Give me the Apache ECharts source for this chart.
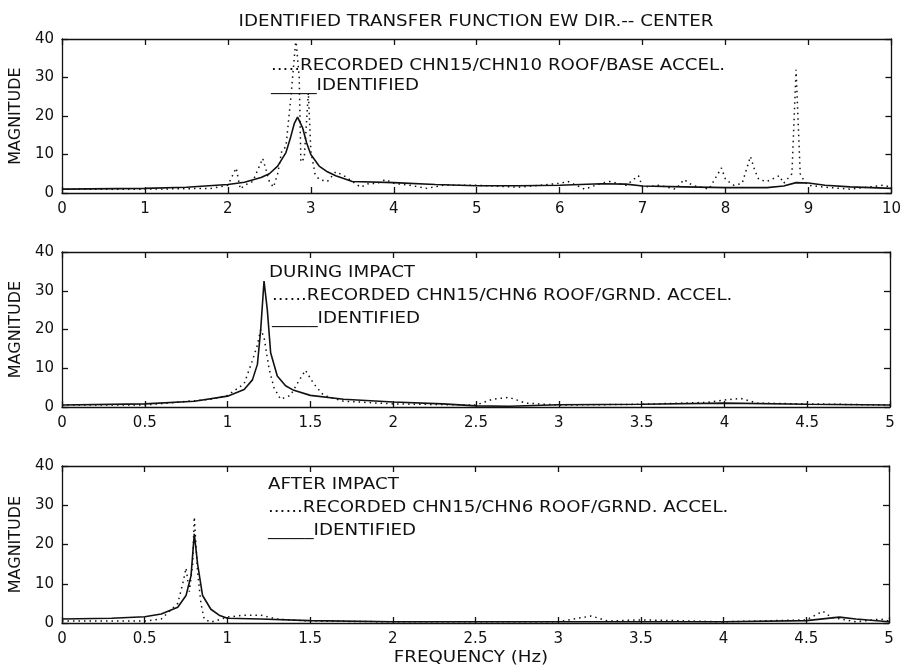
<!DOCTYPE html>
<html>
<head>
<meta charset="utf-8">
<script src="https://cdn.jsdelivr.net/npm/echarts@6/dist/echarts.min.js"></script>
<style>
  html, body { margin: 0; padding: 0; background: #fff; }
  #chart { width: 904px; height: 667px; }
</style>
</head>
<body>
<div id="chart"></div>
<script>
// top panel: EW dir, center (0-10 Hz)
var topIdentified = [
  [0, 1.0], [1, 1.2], [1.5, 1.5], [2, 2.2], [2.2, 2.8], [2.4, 4], [2.5, 5], [2.6, 7],
  [2.7, 10.5], [2.75, 14], [2.8, 18], [2.84, 19.7], [2.9, 17], [2.95, 13], [3.0, 10],
  [3.1, 7], [3.2, 5.5], [3.3, 4.5], [3.5, 3.0], [4, 2.7], [4.5, 2.2], [5, 1.9],
  [5.5, 1.9], [6, 2.0], [6.5, 2.4], [6.8, 2.3], [7, 1.8], [7.5, 1.6], [8, 1.4],
  [8.5, 1.4], [8.7, 1.8], [8.85, 2.7], [9.0, 2.6], [9.2, 2.0], [9.5, 1.6], [10, 1.2]
];
var topRecorded = [
  [0, 1.0], [1, 1.0], [1.8, 1.2], [2.0, 2], [2.1, 6.5], [2.15, 1], [2.2, 2], [2.3, 3],
  [2.42, 9], [2.46, 6], [2.5, 3], [2.55, 1.5], [2.6, 5], [2.65, 11], [2.7, 12],
  [2.76, 25], [2.82, 40], [2.86, 30], [2.88, 8], [2.92, 9], [2.97, 26], [3.0, 11],
  [3.05, 5], [3.1, 3.5], [3.2, 3], [3.3, 5.5], [3.4, 4.5], [3.5, 3], [3.6, 1.5],
  [3.7, 2.5], [3.8, 2.5], [3.9, 3.5], [4.0, 2.5], [4.2, 2], [4.4, 1.2], [4.6, 2],
  [5, 2], [5.5, 1.5], [6, 2.5], [6.1, 3], [6.3, 1.0], [6.5, 2.5], [6.6, 3], [6.8, 2.0],
  [6.95, 4.5], [7.0, 1.5], [7.2, 2.0], [7.4, 1.0], [7.5, 3.5], [7.6, 2.0], [7.8, 1.0],
  [7.95, 6.5], [8.0, 3.5], [8.1, 2], [8.2, 2.5], [8.3, 9.5], [8.35, 6], [8.4, 3.5],
  [8.5, 3], [8.6, 4], [8.65, 4.5], [8.7, 2.5], [8.8, 5], [8.85, 32], [8.9, 5],
  [8.95, 3], [9.0, 2], [9.2, 1.5], [9.5, 1], [9.7, 1.5], [9.9, 2], [10, 1.5]
];

// middle panel: during impact (0-5 Hz)
var midIdentified = [
  [0, 0.5], [0.5, 0.8], [0.8, 1.5], [1.0, 2.8], [1.1, 4.5], [1.15, 7], [1.18, 11],
  [1.2, 20], [1.22, 32.5], [1.24, 25], [1.26, 14], [1.3, 8], [1.35, 5.5], [1.4, 4.3],
  [1.5, 3.0], [1.7, 2.0], [2.0, 1.3], [2.3, 0.8], [2.5, 0.3], [2.7, 0.2], [3.0, 0.6],
  [3.5, 0.7], [4.0, 1.0], [4.5, 0.7], [5.0, 0.5]
];
var midRecorded = [
  [0, 0.5], [0.5, 0.5], [0.9, 2], [1.0, 3], [1.1, 6], [1.15, 12], [1.18, 16],
  [1.2, 20], [1.22, 18], [1.25, 10], [1.28, 5], [1.32, 2], [1.38, 3], [1.42, 6],
  [1.47, 9.5], [1.52, 6], [1.58, 3], [1.7, 1.5], [2.0, 0.8], [2.5, 0.5], [2.6, 2.0],
  [2.7, 2.5], [2.8, 1.0], [3.0, 0.5], [3.5, 0.7], [3.9, 1.2], [4.0, 1.8], [4.1, 2.2],
  [4.2, 1], [4.5, 0.8], [5.0, 0.5]
];

// bottom panel: after impact (0-5 Hz)
var botIdentified = [
  [0, 1.0], [0.3, 1.2], [0.5, 1.6], [0.6, 2.3], [0.7, 4], [0.75, 7], [0.78, 12],
  [0.8, 22.7], [0.82, 15], [0.85, 7], [0.9, 3.5], [0.95, 2.0], [1.0, 1.2], [1.2, 1.0],
  [1.5, 0.6], [2.0, 0.3], [3.0, 0.3], [4.0, 0.3], [4.5, 0.6], [4.7, 1.5], [4.8, 1.0],
  [5.0, 0.3]
];
var botRecorded = [
  [0, 0.5], [0.5, 0.5], [0.6, 1.0], [0.7, 5], [0.73, 10], [0.75, 14], [0.77, 8],
  [0.79, 15], [0.8, 27], [0.82, 13], [0.84, 5], [0.86, 1], [0.9, 0.2], [1.0, 1.5],
  [1.1, 2], [1.2, 2], [1.3, 1], [1.5, 0.5], [2, 0.3], [3.0, 0.3], [3.2, 1.8],
  [3.3, 0.5], [3.5, 0.8], [4.0, 0.3], [4.5, 0.8], [4.6, 3], [4.65, 1.5], [4.8, 0.3],
  [4.95, 1.0], [5, 0.5]
];

var yTicks = { min: 0, max: 40, interval: 10 };
var xRanges = [
  { min: 0, max: 10, interval: 1 },
  { min: 0, max: 5, interval: 0.5 },
  { min: 0, max: 5, interval: 0.5 }
];

var font = "'DejaVu Sans', 'Liberation Sans', Arial, sans-serif";
var ink = "#111";
var stretch = 1.14; // the scanned lettering is a bit wider than it is tall

var chartDom = document.getElementById("chart");
var myChart = echarts.init(chartDom, null, { renderer: "canvas" });

var grids = [
  { left: 61, right: 12, top: 39, height: 154 },
  { left: 61, right: 14, top: 252, height: 155 },
  { left: 59, right: 15, top: 466, height: 157 }
];

var tickStyle = { show: true, inside: true, length: 6, lineStyle: { color: ink, width: 1.3 } };
var lineStyle = { show: true, onZero: false, lineStyle: { color: ink, width: 1.3 } };

var xAxes = [], yAxes = [];
grids.forEach(function (g, i) {
  var r = xRanges[i];
  xAxes.push({
    type: "value", gridIndex: i, min: r.min, max: r.max, interval: r.interval,
    position: "bottom", axisLine: lineStyle, axisTick: tickStyle,
    axisLabel: { color: ink, fontSize: 15, fontFamily: font, margin: 9 },
    splitLine: { show: false }
  });
  xAxes.push({
    type: "value", gridIndex: i, min: r.min, max: r.max, interval: r.interval,
    position: "top", axisLine: lineStyle, axisTick: tickStyle,
    axisLabel: { show: false }, splitLine: { show: false }
  });
  yAxes.push({
    type: "value", gridIndex: i, min: yTicks.min, max: yTicks.max, interval: yTicks.interval,
    position: "left", axisLine: lineStyle, axisTick: tickStyle,
    axisLabel: { color: ink, fontSize: 15, fontFamily: font, margin: 8 },
    splitLine: { show: false },
    name: "MAGNITUDE", nameLocation: "middle", nameGap: 30, nameRotate: 90,
    nameTextStyle: { color: ink, fontSize: 16, fontFamily: font }
  });
  yAxes.push({
    type: "value", gridIndex: i, min: yTicks.min, max: yTicks.max, interval: yTicks.interval,
    position: "right", axisLine: lineStyle, axisTick: tickStyle,
    axisLabel: { show: false }, splitLine: { show: false }
  });
});

function solid(data, i) {
  return {
    type: "line", xAxisIndex: i * 2, yAxisIndex: i * 2, data: data,
    showSymbol: false, symbol: "none", clip: true,
    lineStyle: { color: ink, width: 1.6 }
  };
}
function dotted(data, i) {
  return {
    type: "line", xAxisIndex: i * 2, yAxisIndex: i * 2, data: data,
    showSymbol: false, symbol: "none", clip: true,
    lineStyle: { color: ink, width: 1.5, type: [1.5, 4] }
  };
}

function label(x, y, text, align) {
  return {
    type: "text", x: x, y: y, scaleX: stretch,
    style: {
      text: text, fill: ink, font: "16px " + font,
      verticalAlign: "middle", align: align || "left"
    }
  };
}

var option = {
  backgroundColor: "#fff",
  animation: false,
  grid: grids,
  xAxis: xAxes,
  yAxis: yAxes,
  series: [
    dotted(topRecorded, 0), solid(topIdentified, 0),
    dotted(midRecorded, 1), solid(midIdentified, 1),
    dotted(botRecorded, 2), solid(botIdentified, 2)
  ],
  graphic: [
    label(476, 22, "IDENTIFIED TRANSFER FUNCTION EW DIR.-- CENTER", "center"),
    label(271, 66, ".....RECORDED CHN15/CHN10 ROOF/BASE ACCEL."),
    label(271, 86, "_____IDENTIFIED"),
    label(269, 273, "DURING IMPACT"),
    label(272, 296, "......RECORDED CHN15/CHN6 ROOF/GRND. ACCEL."),
    label(272, 319, "_____IDENTIFIED"),
    label(268, 485, "AFTER IMPACT"),
    label(268, 508, "......RECORDED CHN15/CHN6 ROOF/GRND. ACCEL."),
    label(268, 531, "_____IDENTIFIED"),
    label(471, 658, "FREQUENCY (Hz)", "center")
  ]
};

option && myChart.setOption(option);
</script>
</body>
</html>
